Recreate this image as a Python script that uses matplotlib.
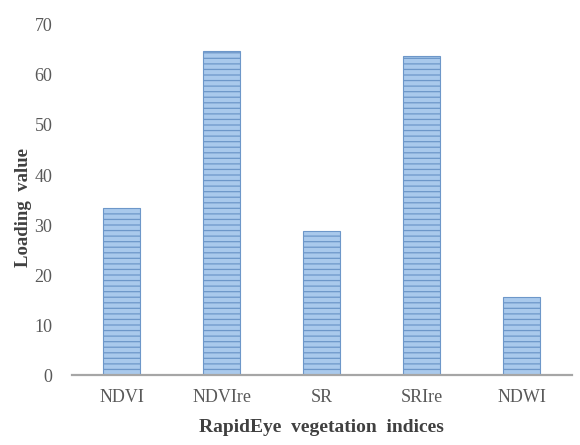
import matplotlib
matplotlib.use('Agg')
import matplotlib.pyplot as plt

indices = ['NDVI', 'NDVIre', 'SR', 'SRIre', 'NDWI']
loading = [33.5, 64.8, 28.8, 63.8, 15.6]
yticks = [0, 10, 20, 30, 40, 50, 60, 70]

plt.rcParams['font.family'] = ['Liberation Serif', 'DejaVu Serif']
plt.rcParams['hatch.linewidth'] = 0.9

fig = plt.figure(figsize=(5.8, 4.45), dpi=100)
ax = fig.add_axes([0.124, 0.157, 0.862, 0.787])

x = range(len(indices))
ax.bar(x, loading, width=0.37, color='#a9c9ec', edgecolor='#6d97c9',
       hatch='---', linewidth=0.8, zorder=2)

ax.set_xlim(-0.5, len(indices) - 0.5)
ax.set_ylim(0, 70)
ax.set_yticks(yticks)
ax.set_xticks(list(x))
ax.set_xticklabels(indices)

for side in ['top', 'right', 'left']:
    ax.spines[side].set_visible(False)
ax.spines['bottom'].set_color('#a6a6a6')
ax.spines['bottom'].set_linewidth(1.6)
ax.tick_params(axis='both', length=0, labelsize=13, colors='#595959')
ax.tick_params(axis='y', pad=14)
ax.tick_params(axis='x', pad=10)

ax.set_xlabel('RapidEye  vegetation  indices', fontsize=14, fontweight='bold',
              color='#404040', labelpad=9)
ax.set_ylabel('Loading  value', fontsize=13.5, fontweight='bold',
              color='#404040', labelpad=4)
ax.yaxis.set_label_coords(-0.08, 0.48)

plt.savefig('out.png', dpi=100)
